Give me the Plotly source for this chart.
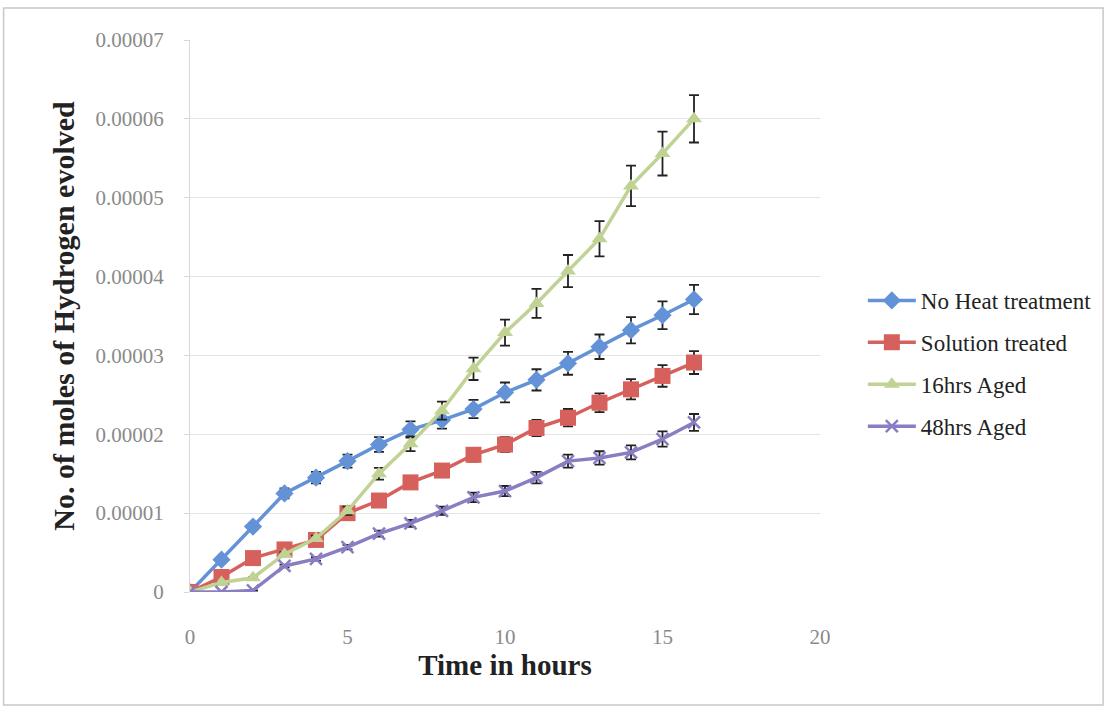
import plotly.graph_objects as go

# Elapsed time (hours)
hours = list(range(17))

# Moles of hydrogen evolved per condition
no_heat = [0, 0.41e-5, 0.83e-5, 1.25e-5, 1.45e-5, 1.66e-5, 1.87e-5, 2.06e-5, 2.18e-5,
           2.32e-5, 2.53e-5, 2.69e-5, 2.90e-5, 3.11e-5, 3.32e-5, 3.51e-5, 3.71e-5]
solution = [0, 0.19e-5, 0.43e-5, 0.54e-5, 0.66e-5, 1.00e-5, 1.16e-5, 1.39e-5, 1.54e-5,
            1.74e-5, 1.87e-5, 2.08e-5, 2.21e-5, 2.40e-5, 2.57e-5, 2.74e-5, 2.91e-5]
aged16 = [0, 0.12e-5, 0.18e-5, 0.48e-5, 0.68e-5, 1.03e-5, 1.50e-5, 1.88e-5, 2.30e-5,
          2.83e-5, 3.29e-5, 3.66e-5, 4.07e-5, 4.48e-5, 5.15e-5, 5.56e-5, 6.00e-5]
aged48 = [0, 0.0e-5, 0.02e-5, 0.33e-5, 0.42e-5, 0.57e-5, 0.74e-5, 0.87e-5, 1.03e-5,
          1.20e-5, 1.28e-5, 1.45e-5, 1.66e-5, 1.70e-5, 1.77e-5, 1.94e-5, 2.15e-5]

series_names = ["No Heat treatment", "Solution treated", "16hrs Aged", "48hrs Aged"]
error_percent = 5

y_tickvals = [0, 1e-5, 2e-5, 3e-5, 4e-5, 5e-5, 6e-5, 7e-5]
y_ticktext = ["0", "0.00001", "0.00002", "0.00003", "0.00004", "0.00005", "0.00006", "0.00007"]
x_tickvals = [0, 5, 10, 15, 20]

SERIF = "Liberation Serif, Times New Roman, serif"

styles = [
    dict(color="#6392d6", symbol="diamond", size=14),
    dict(color="#d6605b", symbol="square", size=16),
    dict(color="#c0d394", symbol="triangle-up", size=14),
    dict(color="#8a7dc2", symbol="x-thin", size=12),
]

fig = go.Figure()
for name, ys, st in zip(series_names, [no_heat, solution, aged16, aged48], styles):
    marker = dict(symbol=st["symbol"], size=st["size"], color=st["color"])
    if st["symbol"] == "x-thin":
        marker["line"] = dict(color=st["color"], width=2.5)
    fig.add_trace(go.Scatter(
        x=hours, y=ys, name=name, legendgroup=name,
        mode="lines+markers",
        line=dict(color=st["color"], width=3.5),
        marker=marker,
        error_y=dict(type="percent", value=error_percent, color="#222222",
                     thickness=1.8, width=5),
    ))

W, H = 1109, 709
ml, mr, mt, mb = 190, 287, 40, 117

fig.update_layout(
    width=W, height=H,
    margin=dict(l=ml, r=mr, t=mt, b=mb),
    paper_bgcolor="white", plot_bgcolor="white",
    font=dict(family=SERIF, color="#222222"),
    showlegend=True,
    legend=dict(
        x=1.068, y=0.567, xanchor="left", yanchor="top",
        font=dict(family=SERIF, size=23, color="#222222"),
        traceorder="grouped", tracegroupgap=9,
        itemwidth=48, bgcolor="rgba(0,0,0,0)",
    ),
    xaxis=dict(
        range=[0, 20], tickvals=x_tickvals,
        showgrid=False, zeroline=False, showline=False,
        ticks="", ticklabelstandoff=30,
        tickfont=dict(family=SERIF, size=21, color="#8a8a8a"),
        title=dict(text="<b>Time in hours</b>", standoff=6,
                   font=dict(family=SERIF, size=29, color="#222222")),
    ),
    yaxis=dict(
        range=[0, 7e-5], tickvals=y_tickvals, ticktext=y_ticktext,
        showgrid=True, gridcolor="#e4e4e4", gridwidth=1,
        zeroline=False, showline=True, linecolor="#d8d8d8", linewidth=1,
        ticks="outside", ticklen=5, tickcolor="#d8d8d8", ticklabelstandoff=16,
        tickfont=dict(family=SERIF, size=21, color="#8a8a8a"),
        title=dict(text="<b>No. of moles of Hydrogen evolved</b>", standoff=12,
                   font=dict(family=SERIF, size=30, color="#222222")),
    ),
)

# Outer chart frame in paper coordinates (paper spans the plot area)
pw, ph = W - ml - mr, H - mt - mb
fig.add_shape(
    type="rect", xref="paper", yref="paper",
    x0=(3 - ml) / pw, x1=(W - 3 - ml) / pw,
    y0=-(H - 4 - mt - ph) / ph, y1=1 + (mt - 8) / ph,
    line=dict(color="#c8c8c8", width=1.5), layer="below",
)

fig.write_html("out.html")
